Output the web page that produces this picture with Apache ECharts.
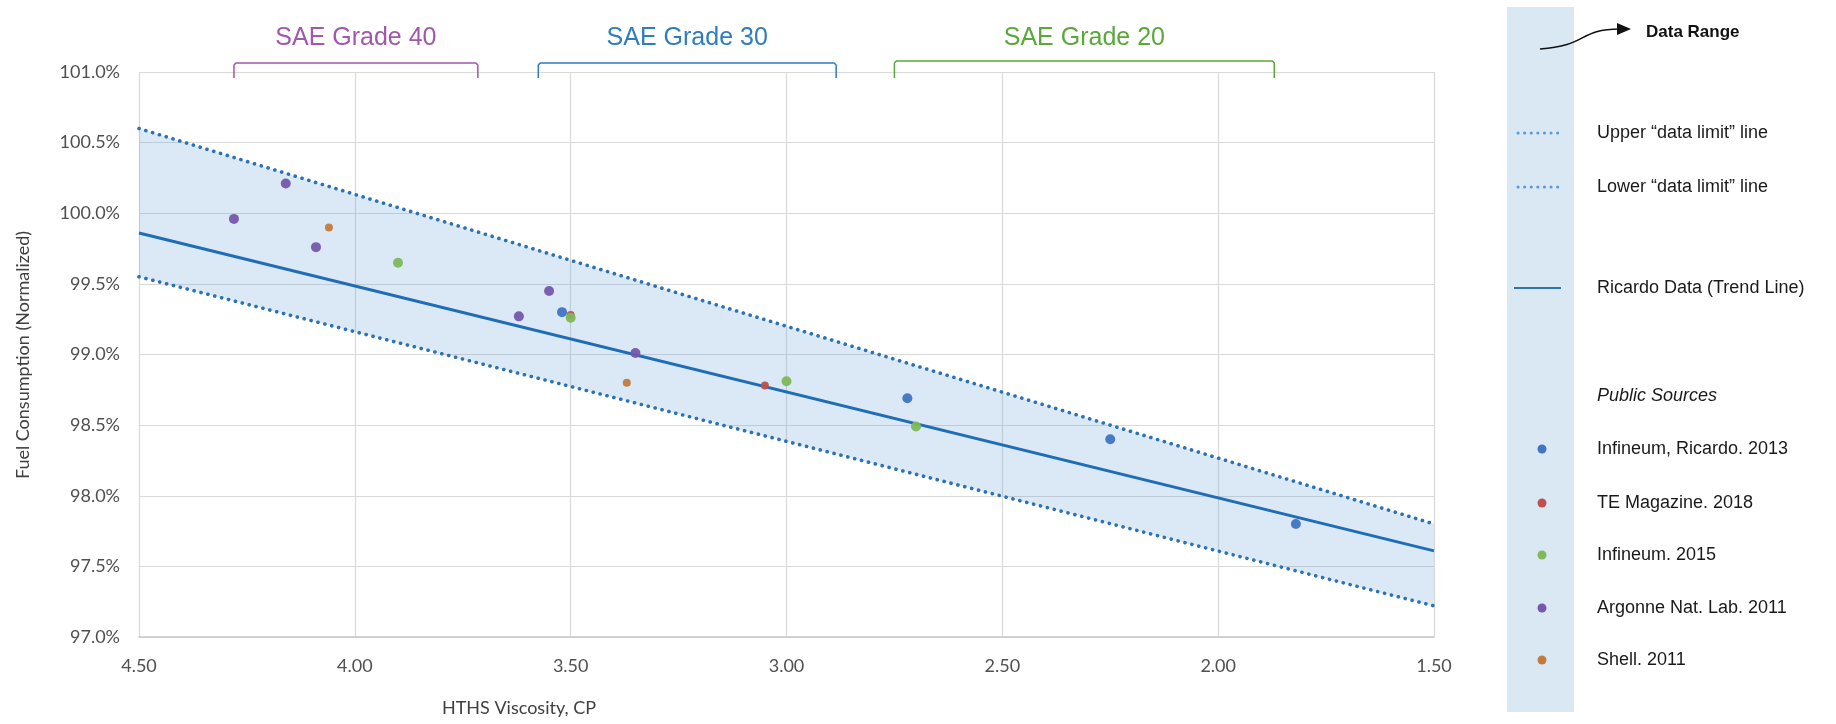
<!DOCTYPE html>
<html>
<head>
<meta charset="utf-8">
<script src="https://cdn.jsdelivr.net/npm/echarts@6/dist/echarts.min.js"></script>
<style>
html,body{margin:0;padding:0;background:#fff;}
#chart{width:1836px;height:724px;}
</style>
</head>
<body>
<div id="chart"></div>
<script>
// ---- data ----
const bandX = [4.5, 1.5];
const upperLimit = [100.60, 97.80];
const lowerLimit = [99.55, 97.22];
const trendLine = [99.86, 97.61];

const seriesNames = ['Infineum, Ricardo. 2013', 'TE Magazine. 2018', 'Infineum. 2015', 'Argonne Nat. Lab. 2011', 'Shell. 2011'];
const seriesColors = ['#4175c3', '#c0504d', '#80b85a', '#7558ab', '#c27b3e'];
const infineumRicardo2013 = [[3.52, 99.30], [2.72, 98.69], [2.25, 98.40], [1.82, 97.80]];
const teMagazine2018 = [[3.50, 99.28], [3.05, 98.78]];
const infineum2015 = [[3.90, 99.65], [3.50, 99.26], [3.00, 98.81], [2.70, 98.49]];
const argonne2011 = [[4.28, 99.96], [4.16, 100.21], [4.09, 99.76], [3.62, 99.27], [3.55, 99.45], [3.35, 99.01]];
const shell2011 = [[4.06, 99.90], [3.37, 98.80]];
const pointSets = [infineumRicardo2013, teMagazine2018, infineum2015, argonne2011, shell2011];

const gradeNames = ['SAE Grade 40', 'SAE Grade 30', 'SAE Grade 20'];
const gradeFrom = [4.28, 3.575, 2.75];
const gradeTo = [3.715, 2.885, 1.87];
const gradeColors = ['#a157ab', '#2e7cc1', '#5aa83a'];

const lineLegendNames = ['Upper \u201cdata limit\u201d line', 'Lower \u201cdata limit\u201d line', 'Ricardo Data (Trend Line)'];

// ---- chart ----
const chart = echarts.init(document.getElementById('chart'));
const tickFont = 'Lato, "Open Sans", sans-serif';

const series = [];
series.push({
  type: 'custom',
  name: 'Data Range',
  data: bandX.map((x, i) => [x, upperLimit[i], lowerLimit[i]]),
  encode: { x: 0, y: [1, 2] },
  clip: true,
  z: 1,
  renderItem: function (params, api) {
    if (params.dataIndex !== 0) return;
    const pts = [];
    for (let i = 0; i < bandX.length; i++) pts.push(api.coord([bandX[i], upperLimit[i]]));
    for (let i = bandX.length - 1; i >= 0; i--) pts.push(api.coord([bandX[i], lowerLimit[i]]));
    return { type: 'polygon', shape: { points: pts }, style: { fill: 'rgba(91,155,213,0.22)' } };
  }
});
const dotted = { color: '#2a72b5', width: 3.6, type: [0.1, 7.0], cap: 'round' };
series.push({ type: 'line', name: 'upper', data: bandX.map((x, i) => [x, upperLimit[i]]), symbol: 'none', lineStyle: dotted, z: 2 });
series.push({ type: 'line', name: 'lower', data: bandX.map((x, i) => [x, lowerLimit[i]]), symbol: 'none', lineStyle: dotted, z: 2 });
series.push({ type: 'line', name: 'trend', data: bandX.map((x, i) => [x, trendLine[i]]), symbol: 'none', lineStyle: { color: '#1f6db6', width: 3 }, z: 3 });
pointSets.forEach((d, i) => {
  series.push({
    type: 'scatter', name: seriesNames[i], data: d,
    symbolSize: (i === 4 || i === 1) ? 8 : 10,
    itemStyle: { color: seriesColors[i], opacity: 0.95 }, z: 4
  });
});

chart.setOption({
  animation: false,
  grid: { left: 139, right: 402, top: 72, bottom: 87 },
  xAxis: {
    type: 'value', inverse: true, min: 1.5, max: 4.5, interval: 0.5,
    axisLine: { show: true, onZero: false, lineStyle: { color: '#c8c8c8', width: 1.5 } },
    axisTick: { show: false },
    splitLine: { show: true, lineStyle: { color: '#d9d9d9', width: 1.2 } },
    axisLabel: { formatter: v => v.toFixed(2), fontFamily: tickFont, fontSize: 18, color: '#505050', margin: 20 }
  },
  yAxis: {
    type: 'value', min: 97, max: 101, interval: 0.5,
    axisLine: { show: false }, axisTick: { show: false },
    splitLine: { show: true, lineStyle: { color: '#d9d9d9', width: 1.2 } },
    axisLabel: { formatter: v => v.toFixed(1) + '%', fontFamily: tickFont, fontSize: 18, color: '#505050', margin: 19 }
  },
  series: series
});

// ---- annotations & legend ----
const g = [];
// axis titles
g.push({ type: 'text', x: 519, y: 708, style: { text: 'HTHS Viscosity, CP', font: '18px ' + tickFont, fill: '#404040', align: 'center', verticalAlign: 'middle' } });
g.push({ type: 'text', x: 23, y: 355, rotation: Math.PI / 2, style: { text: 'Fuel Consumption (Normalized)', font: '18px ' + tickFont, fill: '#404040', align: 'center', verticalAlign: 'middle' } });

// grade brackets
const topY = chart.convertToPixel({ yAxisIndex: 0 }, 101);
gradeNames.forEach((name, i) => {
  const x1 = chart.convertToPixel({ xAxisIndex: 0 }, gradeFrom[i]);
  const x2 = chart.convertToPixel({ xAxisIndex: 0 }, gradeTo[i]);
  const by = i === 2 ? topY - 11 : topY - 9;
  g.push({ type: 'polyline', shape: { points: [[x1, topY + 6], [x1, by + 2], [x1 + 2, by], [x2 - 2, by], [x2, by + 2], [x2, topY + 6]] }, style: { stroke: gradeColors[i], lineWidth: 1.5, fill: null } });
  g.push({ type: 'text', x: (x1 + x2) / 2, y: 38, style: { text: name, font: '25px "Liberation Sans", Arial, sans-serif', fill: gradeColors[i], align: 'center', verticalAlign: 'middle' } });
});

// legend panel
const lx = 1507, tx = 1597;
g.push({ type: 'rect', shape: { x: lx, y: 7, width: 67, height: 705 }, style: { fill: '#dae8f4' } });
g.push({ type: 'bezierCurve', shape: { x1: 1540, y1: 49, cpx1: 1588, cpy1: 46, cpx2: 1578, cpy2: 29, x2: 1620, y2: 29 }, style: { stroke: '#111', lineWidth: 1.6, fill: null } });
g.push({ type: 'polygon', shape: { points: [[1617, 23], [1631, 29], [1617, 35]] }, style: { fill: '#111' } });
g.push({ type: 'text', x: 1646, y: 32, style: { text: 'Data Range', font: 'bold 17px "Liberation Sans", Arial, sans-serif', fill: '#111', verticalAlign: 'middle' } });

const legFont = '18px "Liberation Sans", Arial, sans-serif';
const lineRows = [133, 187, 288];
lineLegendNames.forEach((name, i) => {
  const y = lineRows[i];
  if (i < 2) {
    g.push({ type: 'line', shape: { x1: 1518, y1: y, x2: 1561, y2: y }, style: { stroke: '#5b9bd5', lineWidth: 3, lineDash: [0.1, 6.5], lineCap: 'round' } });
  } else {
    g.push({ type: 'line', shape: { x1: 1514, y1: y, x2: 1561, y2: y }, style: { stroke: '#2e75b6', lineWidth: 2 } });
  }
  g.push({ type: 'text', x: tx, y: y, style: { text: name, font: legFont, fill: '#1a1a1a', verticalAlign: 'middle' } });
});
g.push({ type: 'text', x: tx, y: 396, style: { text: 'Public Sources', font: 'italic 18px "Liberation Sans", Arial, sans-serif', fill: '#1a1a1a', verticalAlign: 'middle' } });
const ptRows = [449, 503, 555, 608, 660];
seriesNames.forEach((name, i) => {
  const y = ptRows[i];
  g.push({ type: 'circle', shape: { cx: 1542, cy: y, r: 4.5 }, style: { fill: seriesColors[i] } });
  g.push({ type: 'text', x: tx, y: y, style: { text: name, font: legFont, fill: '#1a1a1a', verticalAlign: 'middle' } });
});

chart.setOption({ graphic: { elements: g } });
</script>
</body>
</html>
